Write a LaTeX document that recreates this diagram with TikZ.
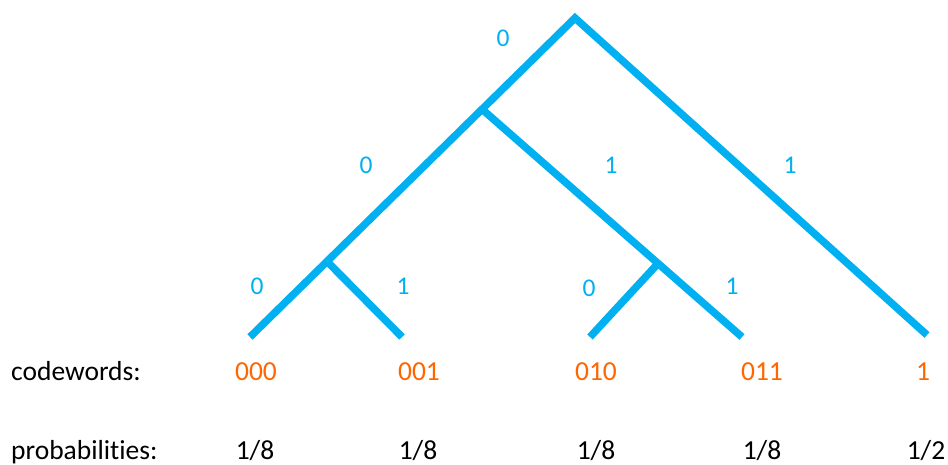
\documentclass[tikz,border=0pt]{standalone}
\usepackage{fontspec}
\setmainfont{Carlito}[Ligatures={NoCommon}]
\usetikzlibrary{calc}
\definecolor{treeblue}{RGB}{0,176,240}
\definecolor{codeorange}{RGB}{255,102,0}
\begin{document}
\begin{tikzpicture}[x=1pt,y=-1pt,
  branch/.style={draw=treeblue,line width=7.5pt,line join=miter},
  bitlbl/.style={text=treeblue,font=\fontsize{25.5}{30}\selectfont,inner sep=0pt},
  codelbl/.style={text=codeorange,font=\fontsize{27.5}{32}\selectfont,anchor=base,inner sep=0pt},
  problbl/.style={text=black,font=\fontsize{27.5}{32}\selectfont,anchor=base,inner sep=0pt},
  rowlbl/.style={text=black,font=\fontsize{27.5}{32}\selectfont,anchor=base west,inner sep=0pt}]
\useasboundingbox[fill=white] (0,0) rectangle (948,464);
% tree vertices
\coordinate (root) at (575,18);
\coordinate (l000) at (250,337);
\coordinate (l001) at (402,337);
\coordinate (l010) at (590,337);
\coordinate (l011) at (742,337);
\coordinate (l1) at (927,335);
\coordinate (n0) at ($(root)!0.286!(l000)$);
\coordinate (n00) at ($(root)!0.763!(l000)$);
\coordinate (n01) at ($(n0)!0.677!(l011)$);
% branches
\draw[branch] (l000) -- (root) -- (l1);
\draw[branch] (n0) -- (l011);
\draw[branch] (n00) -- (l001);
\draw[branch] (n01) -- (l010);
% bit labels
\node[bitlbl] (b0) at (503,38) {0};
\node[bitlbl] (b00) at (366,165) {0};
\node[bitlbl] (b01) at (611,165) {1};
\node[bitlbl] (b1) at (790,165) {1};
\node[bitlbl] (b000) at (257,286) {0};
\node[bitlbl] (b001) at (403,286) {1};
\node[bitlbl] (b010) at (589,288) {0};
\node[bitlbl] (b011) at (732,286) {1};
% row labels
\node[rowlbl] (cw) at (11,380) {codewords:};
\node[rowlbl] (pr) at (11,459) {probabilities:};
% codewords
\node[codelbl] (c000) at (256,380) {000};
\node[codelbl] (c001) at (419,380) {001};
\node[codelbl] (c010) at (596,380) {010};
\node[codelbl] (c011) at (762,380) {011};
\node[codelbl] (c1) at (923,380) {1};
% probabilities
\node[problbl] (p000) at (255,459) {1/8};
\node[problbl] (p001) at (418,459) {1/8};
\node[problbl] (p010) at (596,459) {1/8};
\node[problbl] (p011) at (762,459) {1/8};
\node[problbl] (p1) at (926,459) {1/2};
\end{tikzpicture}
\end{document}
